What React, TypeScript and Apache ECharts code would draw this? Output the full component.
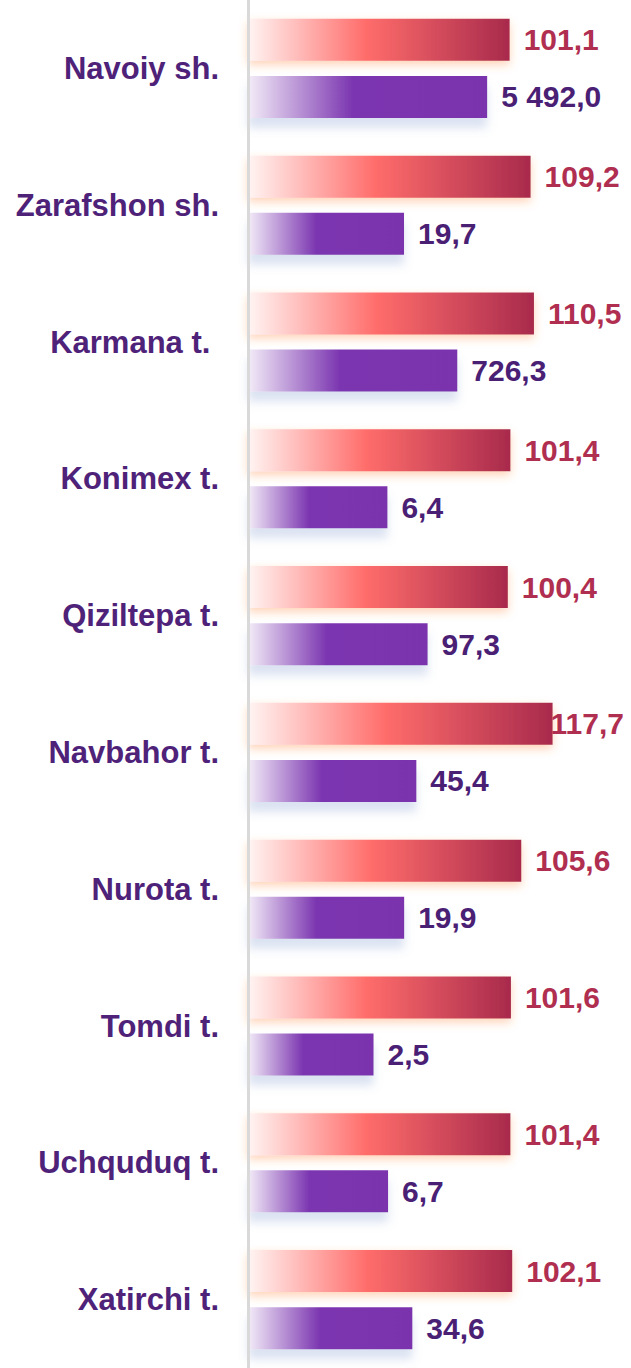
import React, { useEffect, useRef } from "react";
import * as echarts from "echarts";

const categories = [
  "Navoiy sh.",
  "Zarafshon sh.",
  "Karmana t. ",
  "Konimex t.",
  "Qiziltepa t.",
  "Navbahor t.",
  "Nurota t.",
  "Tomdi t.",
  "Uchquduq t.",
  "Xatirchi t.",
];
const growthPct = [101.1, 109.2, 110.5, 101.4, 100.4, 117.7, 105.6, 101.6, 101.4, 102.1];
const volume = [5492.0, 19.7, 726.3, 6.4, 97.3, 45.4, 19.9, 2.5, 6.7, 34.6];

const fmt = (v: number) => {
  const [i, d] = v.toFixed(1).split(".");
  return i.replace(/\B(?=(\d{3})+(?!\d))/g, " ") + "," + d;
};

const FONT = "'Liberation Sans', Arial, sans-serif";
const logMin = Math.pow(10, -112 / 34);
const logMax = Math.pow(10, -112 / 34 + 383 / 34);

export default function App() {
  const ref = useRef<HTMLDivElement>(null);
  useEffect(() => {
    document.body.style.margin = "0";
    const chart = echarts.init(ref.current!, undefined, { renderer: "svg" });
    chart.setOption({
      animation: false,
      backgroundColor: "#ffffff",
      grid: { left: 248, right: 0, top: -2, bottom: -8, containLabel: false },
      yAxis: {
        type: "category",
        data: categories,
        inverse: true,
        axisLine: { show: true, lineStyle: { color: "#d9d9d9", width: 3 } },
        axisTick: { show: false },
        splitLine: { show: false },
        axisLabel: {
          fontSize: 31,
          fontWeight: "bold",
          color: "#4f2279",
          fontFamily: FONT,
          margin: 29,
        },
        z: 5,
      },
      xAxis: [
        { type: "value", min: 0, max: 148, show: false },
        { type: "log", min: logMin, max: logMax, startValue: logMin, show: false },
      ],
      series: [
        {
          type: "bar",
          name: "growth",
          xAxisIndex: 0,
          barWidth: 42,
          barGap: "36%",
          data: growthPct.map((v) => ({
            value: v,
            label: v > 115 ? { distance: -2 } : undefined,
          })),
          itemStyle: {
            color: new echarts.graphic.LinearGradient(0, 0, 1, 0, [
              { offset: 0, color: "#fff5f3" },
              { offset: 0.45, color: "#ff6d6b" },
              { offset: 1, color: "#a82a4c" },
            ]),
            shadowColor: "rgba(255,130,50,0.35)",
            shadowBlur: 10,
            shadowOffsetY: 4,
          },
          label: {
            show: true,
            position: "right",
            distance: 14,
            formatter: (p: any) => fmt(p.value),
            fontSize: 30,
            fontWeight: "bold",
            color: "#b02e4f",
            fontFamily: FONT,
          },
        },
        {
          type: "bar",
          name: "volume",
          xAxisIndex: 1,
          barWidth: 42,
          barGap: "36%",
          data: volume,
          itemStyle: {
            color: new echarts.graphic.LinearGradient(0, 0, 1, 0, [
              { offset: 0, color: "#f3ecf8" },
              { offset: 0.44, color: "#7b35b0" },
              { offset: 1, color: "#7a33ad" },
            ]),
            shadowColor: "rgba(110,140,200,0.25)",
            shadowBlur: 10,
            shadowOffsetY: 10,
          },
          label: {
            show: true,
            position: "right",
            distance: 14,
            formatter: (p: any) => fmt(p.value),
            fontSize: 30,
            fontWeight: "bold",
            color: "#4a2075",
            fontFamily: FONT,
          },
        },
      ],
    });
    return () => chart.dispose();
  }, []);
  return (
    <div
      ref={ref}
      style={{ position: "absolute", left: 0, top: 0, width: 631, height: 1368 }}
    />
  );
}
